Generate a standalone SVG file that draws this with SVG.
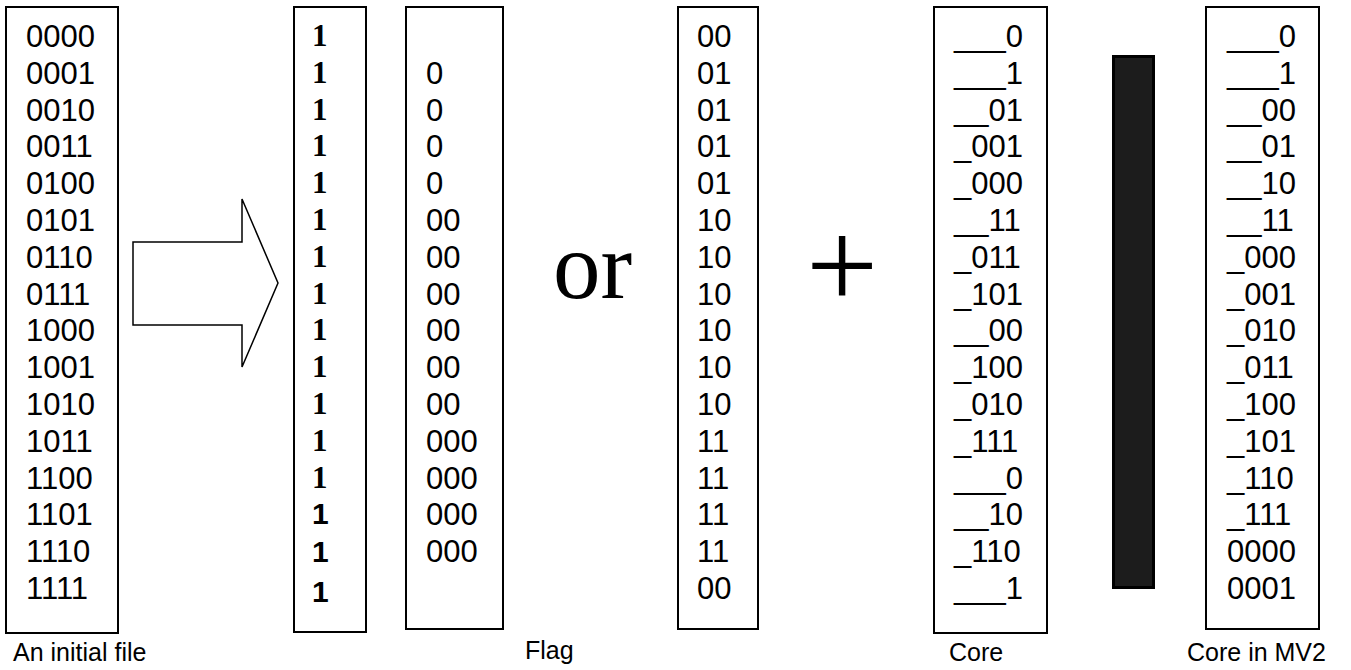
<svg xmlns="http://www.w3.org/2000/svg" width="1351" height="670" viewBox="0 0 1351 670">
<style>
.box{fill:#fff;stroke:#000;stroke-width:2}
.t{font-family:"Liberation Sans",Arial,sans-serif;font-size:31px;fill:#000}
.tb{font-family:"Liberation Serif","Times New Roman",serif;font-size:31px;font-weight:bold;fill:#000}
.ab{font-family:"Liberation Sans",Arial,sans-serif;font-size:30px;font-weight:bold;fill:#000}
.lbl{font-family:"Liberation Sans",Arial,sans-serif;font-size:25px;fill:#000}
.big{font-family:"Liberation Serif","Times New Roman",serif;fill:#000}
</style>
<rect width="1351" height="670" fill="#fff"/>
<g id="initial-file">
<rect class="box" x="6" y="7" width="112" height="626"/>
<text class="t" x="26" y="47">0000</text>
<text class="t" x="26" y="83.8">0001</text>
<text class="t" x="26" y="120.6">0010</text>
<text class="t" x="26" y="157.4">0011</text>
<text class="t" x="26" y="194.2">0100</text>
<text class="t" x="26" y="231">0101</text>
<text class="t" x="26" y="267.8">0110</text>
<text class="t" x="26" y="304.6">0111</text>
<text class="t" x="26" y="341.4">1000</text>
<text class="t" x="26" y="378.2">1001</text>
<text class="t" x="26" y="415">1010</text>
<text class="t" x="26" y="451.8">1011</text>
<text class="t" x="26" y="488.6">1100</text>
<text class="t" x="26" y="525.4">1101</text>
<text class="t" x="26" y="562.2">1110</text>
<text class="t" x="26" y="599">1111</text>
<text class="lbl" x="13" y="661">An initial file</text>
</g>
<g id="connectors">
<polygon points="133,242 242,242 242,199 278,283 242,367 242,325 133,325" fill="#fff" stroke="#000" stroke-width="1.5"/>
</g>
<g id="ones">
<rect class="box" x="294" y="7" width="72" height="625"/>
<text class="tb" x="312" y="46">1</text>
<text class="tb" x="312" y="82.8">1</text>
<text class="tb" x="312" y="119.6">1</text>
<text class="tb" x="312" y="156.4">1</text>
<text class="tb" x="312" y="193.2">1</text>
<text class="tb" x="312" y="230">1</text>
<text class="tb" x="312" y="266.8">1</text>
<text class="tb" x="312" y="303.6">1</text>
<text class="tb" x="312" y="340.4">1</text>
<text class="tb" x="312" y="377.2">1</text>
<text class="tb" x="312" y="414">1</text>
<text class="tb" x="312" y="450.8">1</text>
<text class="tb" x="312" y="487.6">1</text>
<text class="ab" x="312" y="524">1</text>
<text class="ab" x="312" y="562">1</text>
<text class="ab" x="312" y="602">1</text>
</g>
<g id="flag">
<rect class="box" x="406" y="7" width="97" height="622"/>
<text class="t" x="426" y="83.8">0</text>
<text class="t" x="426" y="120.6">0</text>
<text class="t" x="426" y="157.4">0</text>
<text class="t" x="426" y="194.2">0</text>
<text class="t" x="426" y="231">00</text>
<text class="t" x="426" y="267.8">00</text>
<text class="t" x="426" y="304.6">00</text>
<text class="t" x="426" y="341.4">00</text>
<text class="t" x="426" y="378.2">00</text>
<text class="t" x="426" y="415">00</text>
<text class="t" x="426" y="451.8">000</text>
<text class="t" x="426" y="488.6">000</text>
<text class="t" x="426" y="525.4">000</text>
<text class="t" x="426" y="562.2">000</text>
<text class="lbl" x="525" y="659">Flag</text>
</g>
<g id="or">
<text class="big" x="553" y="298" font-size="95">or</text>
</g>
<g id="flag2">
<rect class="box" x="678" y="7" width="80" height="622"/>
<text class="t" x="697" y="47">00</text>
<text class="t" x="697" y="83.8">01</text>
<text class="t" x="697" y="120.6">01</text>
<text class="t" x="697" y="157.4">01</text>
<text class="t" x="697" y="194.2">01</text>
<text class="t" x="697" y="231">10</text>
<text class="t" x="697" y="267.8">10</text>
<text class="t" x="697" y="304.6">10</text>
<text class="t" x="697" y="341.4">10</text>
<text class="t" x="697" y="378.2">10</text>
<text class="t" x="697" y="415">10</text>
<text class="t" x="697" y="451.8">11</text>
<text class="t" x="697" y="488.6">11</text>
<text class="t" x="697" y="525.4">11</text>
<text class="t" x="697" y="562.2">11</text>
<text class="t" x="697" y="599">00</text>
</g>
<g id="plus">
<text class="big" x="842" y="308" font-size="128" text-anchor="middle">+</text>
</g>
<g id="core">
<rect class="box" x="934" y="7" width="113" height="626"/>
<text class="t" x="954" y="47">___0</text>
<text class="t" x="954" y="83.8">___1</text>
<text class="t" x="954" y="120.6">__01</text>
<text class="t" x="954" y="157.4">_001</text>
<text class="t" x="954" y="194.2">_000</text>
<text class="t" x="954" y="231">__11</text>
<text class="t" x="954" y="267.8">_011</text>
<text class="t" x="954" y="304.6">_101</text>
<text class="t" x="954" y="341.4">__00</text>
<text class="t" x="954" y="378.2">_100</text>
<text class="t" x="954" y="415">_010</text>
<text class="t" x="954" y="451.8">_111</text>
<text class="t" x="954" y="488.6">___0</text>
<text class="t" x="954" y="525.4">__10</text>
<text class="t" x="954" y="562.2">_110</text>
<text class="t" x="954" y="599">___1</text>
<text class="lbl" x="949" y="661">Core</text>
</g>
<g id="bar">
<rect x="1113.5" y="56.5" width="40" height="531" fill="#1c1c1c" stroke="#000" stroke-width="3"/>
</g>
<g id="core-mv2">
<rect class="box" x="1206" y="7" width="113" height="622"/>
<text class="t" x="1227" y="47">___0</text>
<text class="t" x="1227" y="83.8">___1</text>
<text class="t" x="1227" y="120.6">__00</text>
<text class="t" x="1227" y="157.4">__01</text>
<text class="t" x="1227" y="194.2">__10</text>
<text class="t" x="1227" y="231">__11</text>
<text class="t" x="1227" y="267.8">_000</text>
<text class="t" x="1227" y="304.6">_001</text>
<text class="t" x="1227" y="341.4">_010</text>
<text class="t" x="1227" y="378.2">_011</text>
<text class="t" x="1227" y="415">_100</text>
<text class="t" x="1227" y="451.8">_101</text>
<text class="t" x="1227" y="488.6">_110</text>
<text class="t" x="1227" y="525.4">_111</text>
<text class="t" x="1227" y="562.2">0000</text>
<text class="t" x="1227" y="599">0001</text>
<text class="lbl" x="1187" y="661">Core in MV2</text>
</g>
</svg>
